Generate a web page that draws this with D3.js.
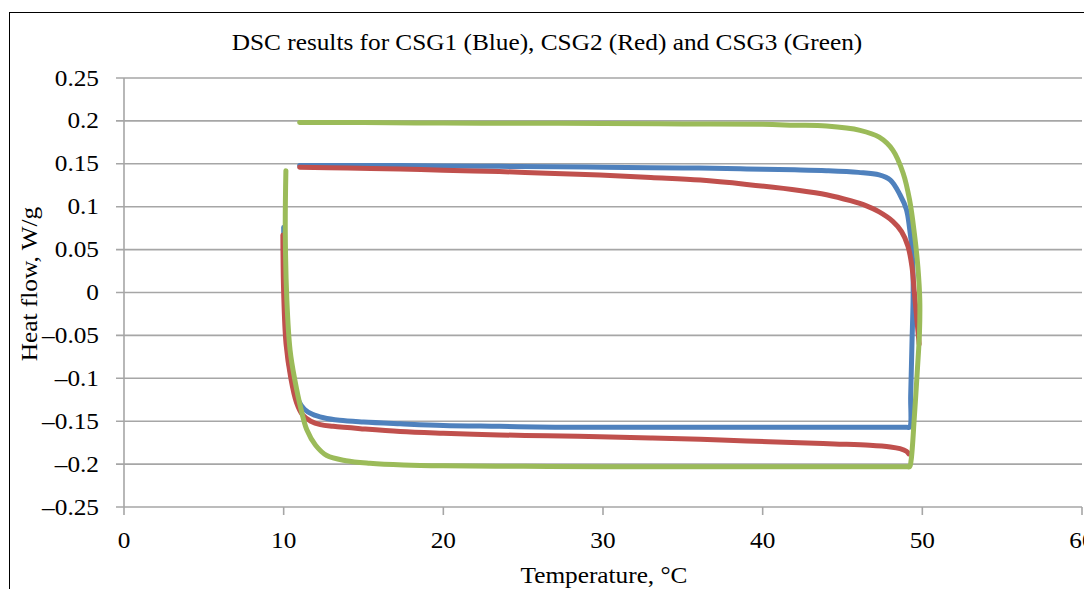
<!DOCTYPE html>
<html>
<head>
<meta charset="utf-8">
<script src="https://cdn.jsdelivr.net/npm/d3@7"></script>
<style>
  html, body { margin: 0; padding: 0; background: #fff; }
  svg { display: block; }
  text { font-family: "Liberation Serif", "Times New Roman", serif; fill: #000; }
</style>
</head>
<body>
<svg id="chart" width="1084" height="589"></svg>
<script>
// ---- Data ----
const chartTitle = "DSC results for CSG1 (Blue), CSG2 (Red) and CSG3 (Green)";
const xAxisTitle = "Temperature, °C";
const yAxisTitle = "Heat flow, W/g";
const xTicks = [0, 10, 20, 30, 40, 50, 60];
const xTickLabels = ["0", "10", "20", "30", "40", "50", "60"];
const yTicks = [0.25, 0.2, 0.15, 0.1, 0.05, 0, -0.05, -0.1, -0.15, -0.2, -0.25];
const yTickLabels = ["0.25", "0.2", "0.15", "0.1", "0.05", "0", "–0.05", "–0.1", "–0.15", "–0.2", "–0.25"];

// CSG1 (Blue): lower branch, then right edge, then upper branch (leftwards)
const csg1Lower = [[10.0,0.076],[10.03,0.03],[10.08,-0.01],[10.2,-0.06],[10.5,-0.1],[10.9,-0.125],[11.3,-0.136],[11.8,-0.142],[12.5,-0.146],[13.5,-0.149],[15,-0.151],[17.3,-0.153],[20,-0.155],[23.5,-0.156],[27,-0.157],[30,-0.157],[35,-0.157],[40,-0.157],[44,-0.157],[47,-0.157],[48.5,-0.157],[49.0,-0.157],[49.2,-0.157]];
const csg1Upper = [[49.27,-0.12],[49.35,-0.06],[49.42,-0.01],[49.42,0.02],[49.35,0.05],[49.2,0.075],[49.0,0.097],[48.6,0.114],[48.0,0.131],[47.3,0.137],[46,0.140],[44,0.142],[42,0.143],[39,0.144],[36,0.145],[33,0.1455],[30,0.146],[27,0.1465],[23.5,0.147],[20,0.1475],[17.3,0.148],[14,0.148],[11,0.148]];

// CSG2 (Red)
const csg2Lower = [[9.95,0.067],[10.0,0.0],[10.15,-0.06],[10.45,-0.1],[10.8,-0.128],[11.2,-0.143],[11.7,-0.150],[12.3,-0.154],[13.1,-0.156],[15,-0.159],[17.3,-0.162],[20,-0.164],[23.5,-0.166],[26.5,-0.167],[29.8,-0.168],[33,-0.1695],[36.1,-0.171],[39,-0.173],[42.3,-0.175],[44.5,-0.1765],[46.7,-0.178],[48,-0.18],[48.6,-0.182],[49.0,-0.185],[49.15,-0.188]];
const csg2Upper = [[11,0.146],[14,0.145],[17.3,0.144],[20,0.1425],[23.5,0.141],[26.5,0.139],[29.8,0.137],[33,0.134],[36.1,0.131],[39,0.126],[42.3,0.119],[44,0.114],[45.5,0.107],[46.5,0.101],[47.3,0.094],[48.15,0.083],[48.7,0.071],[49.1,0.054],[49.35,0.03],[49.5,0.0],[49.65,-0.03],[49.8,-0.06]];

// CSG3 (Green)
const csg3Lower = [[10.14,0.142],[10.1,0.073],[10.2,-0.009],[10.4,-0.067],[10.7,-0.102],[11.1,-0.137],[11.45,-0.16],[12.0,-0.178],[12.7,-0.19],[13.9,-0.196],[15.4,-0.199],[17.5,-0.201],[20,-0.202],[25,-0.2025],[30,-0.203],[35,-0.203],[40,-0.203],[44,-0.203],[47,-0.203],[48.6,-0.203],[49.0,-0.203],[49.2,-0.203]];
const csg3Upper = [[49.3,-0.195],[49.5,-0.145],[49.7,-0.087],[49.82,-0.047],[49.84,-0.009],[49.72,0.03],[49.5,0.069],[49.2,0.108],[48.8,0.139],[48.15,0.166],[47.3,0.181],[46.1,0.189],[44,0.194],[42,0.195],[40,0.196],[35,0.1965],[30,0.197],[25,0.1972],[20,0.1975],[15,0.198],[11,0.198]];

const seriesNames = ["CSG1", "CSG2", "CSG3"];
const seriesColors = ["#4F81BD", "#C0504D", "#9BBB59"];

// ---- Layout ----
const svg = d3.select("#chart");
const plot = { left: 124, right: 1082, top: 78, bottom: 507 };
const fontSize = 23;
const stretch = 1.1;

const x = d3.scaleLinear().domain([0, 60]).range([plot.left, plot.right]);
const y = d3.scaleLinear().domain([-0.25, 0.25]).range([plot.bottom, plot.top]);

// outer chart border (only top/left visible in the crop)
svg.append("rect")
  .attr("x", 9.5).attr("y", 12.5)
  .attr("width", 1200).attr("height", 700)
  .attr("fill", "none").attr("stroke", "#000").attr("stroke-width", 1);

// gridlines
const gridColor = "#a6a6a6";
svg.append("g").selectAll("line")
  .data(yTicks)
  .join("line")
  .attr("x1", plot.left - 8).attr("x2", plot.right)
  .attr("y1", d => y(d)).attr("y2", d => y(d))
  .attr("stroke", gridColor).attr("stroke-width", 1.6);

// y axis line
svg.append("line")
  .attr("x1", plot.left).attr("x2", plot.left)
  .attr("y1", plot.top).attr("y2", plot.bottom)
  .attr("stroke", gridColor).attr("stroke-width", 1.6);

// x axis ticks
svg.append("g").selectAll("line")
  .data(xTicks)
  .join("line")
  .attr("x1", d => x(d)).attr("x2", d => x(d))
  .attr("y1", plot.bottom).attr("y2", plot.bottom + 8)
  .attr("stroke", gridColor).attr("stroke-width", 1.6);

function stretchedText(sel, tx, ty, rot) {
  return sel.attr("transform", `translate(${tx},${ty})` + (rot ? ` rotate(${rot})` : "") + ` scale(${stretch},1)`)
    .attr("font-size", fontSize);
}

// y tick labels
svg.append("g").selectAll("text")
  .data(yTicks)
  .join("text")
  .each(function(d) { stretchedText(d3.select(this), 99, y(d) + 7.5); })
  .attr("text-anchor", "end")
  .text((d, i) => yTickLabels[i]);

// x tick labels (the last one is cropped by the chart edge, as in the source)
svg.append("g").selectAll("text")
  .data(xTicks)
  .join("text")
  .each(function(d) { stretchedText(d3.select(this), x(d), 548); })
  .attr("text-anchor", "middle")
  .text((d, i) => xTickLabels[i]);

// titles
stretchedText(svg.append("text"), 547, 50)
  .attr("text-anchor", "middle")
  .text(chartTitle);

stretchedText(svg.append("text"), 604, 583)
  .attr("text-anchor", "middle")
  .text(xAxisTitle);

stretchedText(svg.append("text"), 37, 284, -90)
  .attr("text-anchor", "middle")
  .text(yAxisTitle);

// series lines
const line = d3.line()
  .x(d => x(d[0]))
  .y(d => y(d[1]))
  .curve(d3.curveCatmullRom.alpha(0.5));

const paths = [
  { data: csg1Lower.concat(csg1Upper), color: seriesColors[0] },
  { data: csg2Lower, color: seriesColors[1] },
  { data: csg2Upper, color: seriesColors[1] },
  { data: csg3Lower.concat(csg3Upper), color: seriesColors[2] }
];

svg.append("g").selectAll("path")
  .data(paths)
  .join("path")
  .attr("d", d => line(d.data))
  .attr("fill", "none")
  .attr("stroke", d => d.color)
  .attr("stroke-width", 5)
  .attr("stroke-linejoin", "round")
  .attr("stroke-linecap", "round");
</script>
</body>
</html>
